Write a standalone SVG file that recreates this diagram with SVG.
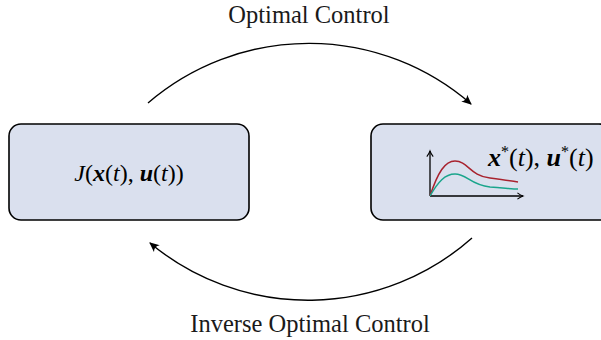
<svg xmlns="http://www.w3.org/2000/svg" width="601" height="340" viewBox="0 0 601 340">
<style>
.box{fill:#dae0ee;stroke:#000;stroke-width:1.6}
.lbl{font-family:"Liberation Serif",serif;font-size:24.5px;fill:#1a1a1a}
.m{font-family:"Liberation Serif",serif;font-size:24px;font-style:italic;fill:#000}
.m2{font-size:26px}
.b{font-weight:bold}
.u{font-style:normal}
.sup{font-style:normal;font-size:16px}
.arc{fill:none;stroke:#000;stroke-width:1.4}
.ax{fill:none;stroke:#000;stroke-width:1.3}
</style>
<defs>
<marker id="ah" viewBox="0 0 10 10" refX="9" refY="5" markerWidth="10" markerHeight="10" markerUnits="userSpaceOnUse" orient="auto">
<path d="M0,0.5 Q4,5 0,9.5 L10,5 Z" fill="#000"/>
</marker>
<marker id="sa" viewBox="0 0 10 10" refX="8" refY="5" markerWidth="8" markerHeight="8" markerUnits="userSpaceOnUse" orient="auto">
<path d="M1,1 Q5,4 8,5 Q5,6 1,9" fill="none" stroke="#000" stroke-width="1.3"/>
</marker>
</defs>
<g id="cost-node">
<rect class="box" x="9" y="124" width="240" height="96" rx="12"/>
<text class="m" x="129" y="181" text-anchor="middle">J<tspan class="u">(</tspan><tspan class="b">x</tspan><tspan class="u">(</tspan>t<tspan class="u">), </tspan><tspan class="b">u</tspan><tspan class="u">(</tspan>t<tspan class="u">))</tspan></text>
</g>
<g id="trajectory-node">
<rect class="box" x="371" y="124" width="240" height="96" rx="12"/>
<path class="ax" d="M430,196 V151" marker-end="url(#sa)"/>
<path class="ax" d="M430,196 H523" marker-end="url(#sa)"/>
<path d="M430,196 C438,172 445,161 455,161 C468,161 470,176 490,178 C505,180 512,181 518,182" fill="none" stroke="#a8232f" stroke-width="1.5"/>
<path d="M430,196 C438,182 445,174 455,174 C467,174 470,185 490,187 C505,188 512,189 518,189" fill="none" stroke="#1aa58c" stroke-width="1.5"/>
<text class="m m2" x="488" y="166"><tspan class="b">x</tspan><tspan class="sup" dy="-9">*</tspan><tspan class="u" dy="9">(</tspan>t<tspan class="u">), </tspan><tspan class="b">u</tspan><tspan class="sup" dy="-9">*</tspan><tspan class="u" dy="9">(</tspan>t<tspan class="u">)</tspan></text>
</g>
<g id="connectors">
<path class="arc" d="M148,103 A247,247 0 0 1 471,104" marker-end="url(#ah)"/>
<path class="arc" d="M472,238 A247,247 0 0 1 150,243" marker-end="url(#ah)"/>
<text class="lbl" x="309" y="23" text-anchor="middle">Optimal Control</text>
<text class="lbl" x="310" y="332" text-anchor="middle">Inverse Optimal Control</text>
</g>
</svg>
